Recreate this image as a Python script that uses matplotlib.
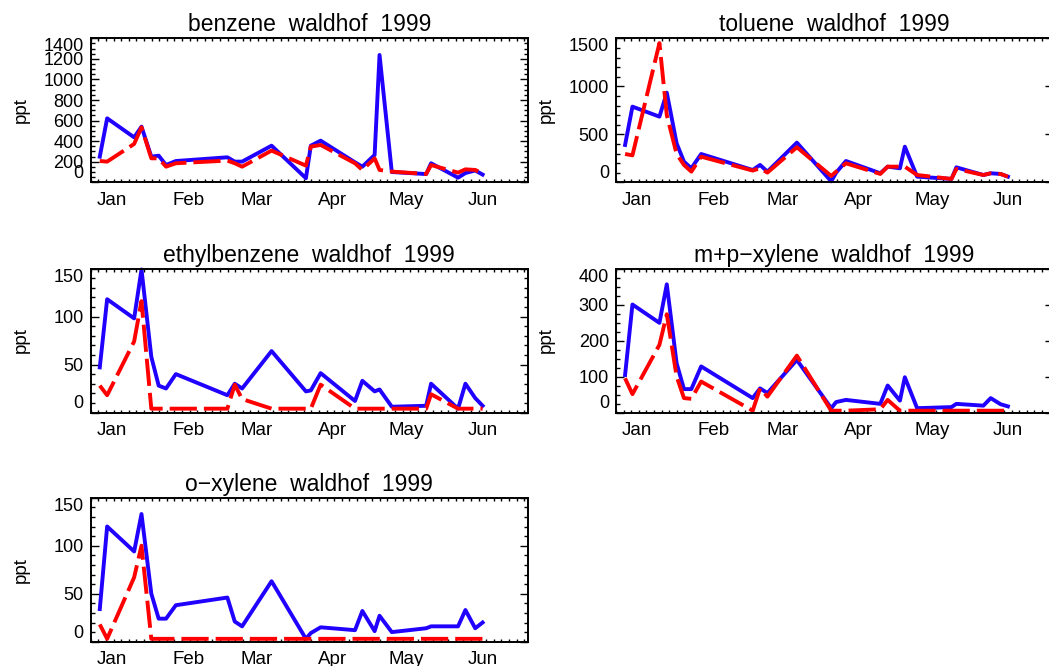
import numpy as np
import pandas as pd
import matplotlib
matplotlib.use("Agg")
import matplotlib.pyplot as plt
from matplotlib.ticker import FixedLocator

plt.rcParams['font.family'] = ['Liberation Sans', 'DejaVu Sans']

# sampling dates (some taken in late December 1998)
sample_dates = pd.to_datetime([
    "1998-12-27", "1998-12-30", "1999-01-10", "1999-01-13", "1999-01-17",
    "1999-01-20", "1999-01-23", "1999-01-27", "1999-02-17", "1999-02-20",
    "1999-02-23", "1999-03-07", "1999-03-21", "1999-03-23", "1999-03-27",
    "1999-04-10", "1999-04-13", "1999-04-18", "1999-04-20", "1999-04-25",
    "1999-05-09", "1999-05-11", "1999-05-22", "1999-05-25", "1999-05-29",
    "1999-06-01",
])
days = (sample_dates - pd.Timestamp("1999-01-01")).days.to_numpy()

month_names = ["Jan", "Feb", "Mar", "Apr", "May", "Jun"]
month_starts = pd.to_datetime(["1999-01-01", "1999-02-01", "1999-03-01",
                               "1999-04-01", "1999-05-01", "1999-06-01"])
month_days = (month_starts - pd.Timestamp("1999-01-01")).days.to_numpy()

# mixing ratios in ppt, blue = measured, red = second data set
benzene_blue = [249, 622, 437, 541, 249, 259, 168, 207, 243, 201, 201, 356, 40,
                356, 405, 194, 152, 266, 1238, 100, 80, 185, 45, 90, 115, 75]
benzene_red = [207, 201, 373, 535, 233, 233, 152, 185, 211, 185, 152, 308, 162,
               347, 363, 185, 120, 233, 120, 104, 81, 168, 94, 126, 120, 87]

toluene_blue = [389, 788, 684, 934, 406, 215, 146, 295, 128, 181, 111, 413, 10,
                100, 222, 94, 163, 146, 371, 59, 35, 156, 76, 94, 87, 59]
toluene_red = [295, 281, 1450, 700, 295, 181, 111, 267, 122, 146, 101, 365, 66,
               111, 198, 87, 163, 163, 163, 76, 35, 139, 76, 94, 87, 59]

ethylbenzene_blue = [47, 118, 98, 149, 58, 28, 25, 40, 18, 30, 25, 64, 22,
                     23, 41, 12, 33, 22, 24, 6, 7, 30, 4, 30, 15, 7]
ethylbenzene_red = [28, 18, 74, 116, 4, 4, 4, 4, 4, 29, 14, 4, 4,
                    4, 29, 4, 4, 4, 4, 4, 4, 19, 4, 4, 4, 4]

mpxylene_blue = [104, 300, 249, 356, 137, 65, 65, 128, 40, 67, 54, 146, 12,
                 29, 35, 24, 75, 33, 98, 12, 15, 24, 19, 40, 23, 17]
mpxylene_red = [95, 51, 188, 273, 100, 40, 38, 86, 5, 67, 44, 158, 5,
                5, 5, 9, 35, 5, 5, 5, 5, 5, 5, 5, 5, 5]

oxylene_blue = [34, 120, 94, 133, 50, 24, 24, 38, 46, 21, 16, 63, 3,
                9, 15, 12, 32, 11, 27, 10, 14, 16, 16, 33, 14, 20]
oxylene_red = [18, 3, 67, 100, 3, 3, 3, 3, 3, 3, 3, 3, 3,
               3, 3, 3, 3, 3, 3, 3, 3, 3, 3, 3, 3, 3]

titles = ["benzene", "toluene", "ethylbenzene", "m+p\u2212xylene", "o\u2212xylene"]
blue_series = [benzene_blue, toluene_blue, ethylbenzene_blue, mpxylene_blue, oxylene_blue]
red_series = [benzene_red, toluene_red, ethylbenzene_red, mpxylene_red, oxylene_red]

# y axis: top, major step, minor subdivisions
y_top = [1400, 1500, 150, 400, 150]
y_step = [200, 500, 50, 100, 50]
y_sub = [4, 5, 5, 4, 5]

W, H = 1049, 666
fig = plt.figure(figsize=(W / 100, H / 100), dpi=100)

col_left = [90.7, 616.0]
ax_w = 437.3
row_bottom = [182.3, 412.5, 641.7]
ax_h = 144.0

xmin, xmax = -8.7, 169.5
blue = "#2000ff"
red = "#ff0000"

for i in range(5):
    r, c = divmod(i, 2)
    ax = fig.add_axes([col_left[c] / W, 1 - row_bottom[r] / H, ax_w / W, ax_h / H])

    ax.plot(days, blue_series[i], color=blue, lw=2.8, clip_on=False)
    ax.plot(days, red_series[i], color=red, lw=2.8, dashes=(7, 1.8), clip_on=False)

    ax.set_xlim(xmin, xmax)
    ax.set_ylim(0, y_top[i])

    ax.xaxis.set_major_locator(FixedLocator(month_days))
    ax.set_xticklabels(month_names)
    ax.xaxis.set_minor_locator(FixedLocator(np.arange(xmin, xmax, 3.1)))

    major = np.arange(0, y_top[i] + 1, y_step[i])
    ax.set_yticks(major)
    ax.set_yticklabels([str(v) for v in major])
    ax.yaxis.set_minor_locator(FixedLocator(np.arange(0, y_top[i] + 1, y_step[i] / y_sub[i])))

    ax.tick_params(axis="x", which="major", length=0, pad=7, labelsize=13.5)
    ax.tick_params(axis="x", which="minor", direction="in", length=2.4, width=1.0,
                   top=True, bottom=True)
    ax.tick_params(axis="y", which="major", direction="in", length=5.8, width=1.0,
                   left=True, right=True, labelsize=13, pad=5)
    ax.tick_params(axis="y", which="minor", direction="in", length=2.9, width=1.0,
                   left=True, right=True)

    # keep the end labels inside the frame
    labels = ax.get_yticklabels()
    labels[0].set_va("bottom")
    labels[-1].set_va("top")

    for sp in ax.spines.values():
        sp.set_linewidth(1.4)

    ax.set_title(titles[i] + "  waldhof  1999", fontsize=16.5, pad=5)
    ax.set_ylabel("ppt", fontsize=13.5)
    ax.yaxis.set_label_coords(-0.14, 0.5)

fig.savefig("out.png", dpi=100)
